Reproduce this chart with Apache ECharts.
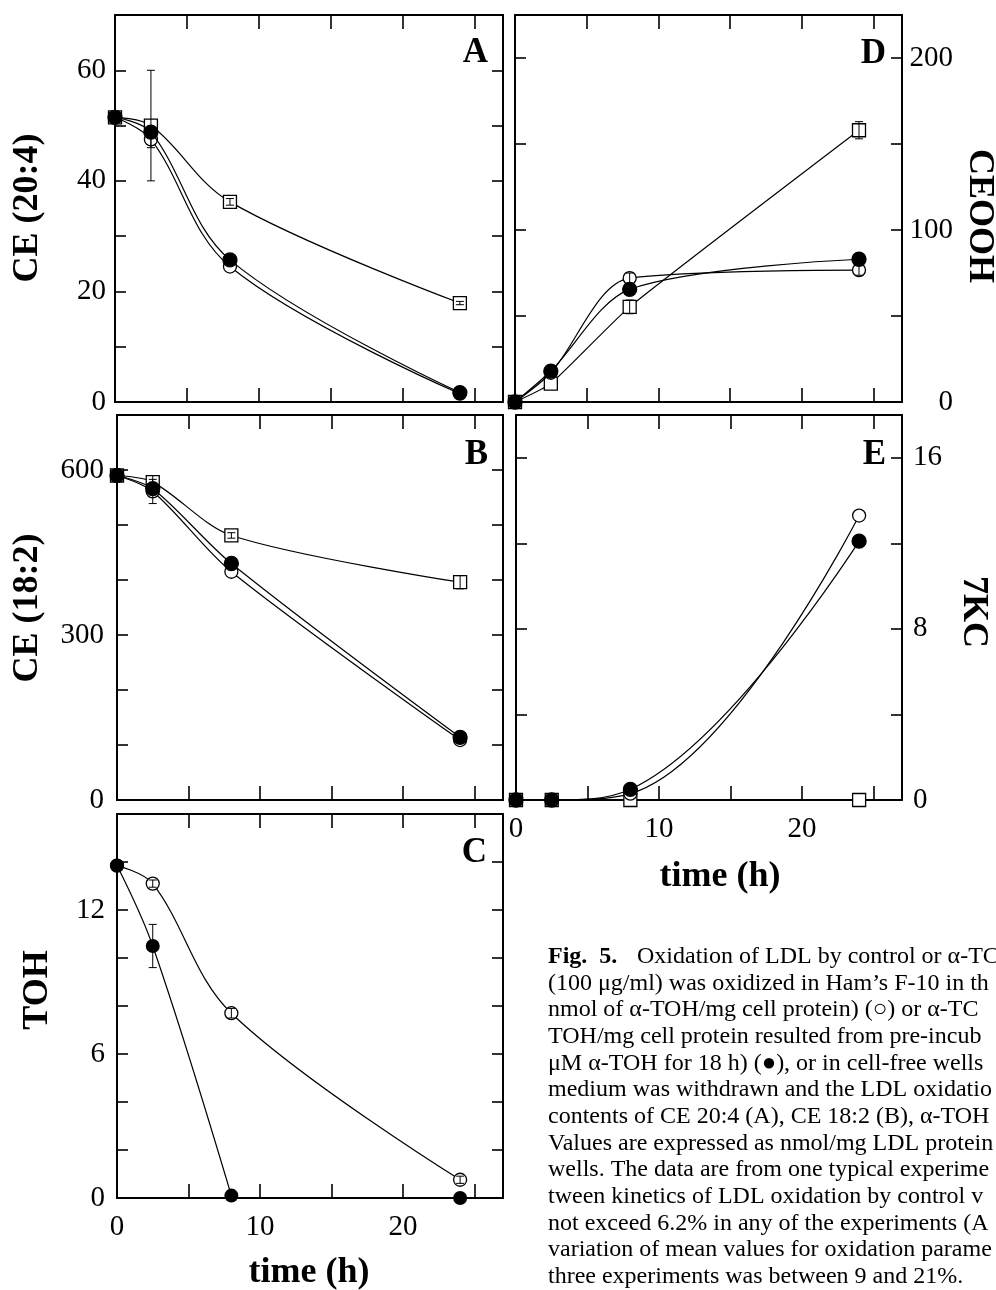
<!DOCTYPE html>
<html>
<head>
<meta charset="utf-8">
<script src="https://cdn.jsdelivr.net/npm/echarts@6.0.0/dist/echarts.min.js"></script>
<style>
  html, body { margin: 0; padding: 0; background: #fff; }
  #chart { width: 996px; height: 1290px; }
</style>
</head>
<body>
<div id="chart"></div>
<script>
// sampling times (h)
var times = [0, 2.5, 8, 24];

// A: CE (20:4)
var aOpen = [51.5, 47.5, 24.5, 1.5];
var aFilled = [51.5, 48.8, 25.7, 1.7];
var aSquare = [51.5, 50.0, 36.2, 17.9];
var aOpenErr = [0, 1.5, 0, 0];
var aSquareErr = [0, 10, 0.6, 0.3];

// B: CE (18:2)
var bOpen = [590, 561, 415, 109];
var bFilled = [590, 566, 430, 114];
var bSquare = [590, 578, 481, 396];
var bOpenErr = [0, 22, 0, 0];
var bSquareErr = [0, 12, 5, 12];

// C: TOH
var cOpen = [13.85, 13.1, 7.7, 0.76];
var cFilled = [13.85, 10.5, 0.1, 0];
var cOpenErr = [0, 0.15, 0.2, 0.15];
var cFilledErr = [0, 0.9, 0, 0];

// D: CEOOH
var dOpen = [0, 17, 72, 76.7];
var dFilled = [0, 18, 65.5, 83];
var dSquare = [0, 10.7, 55.3, 158];
var dOpenErr = [0, 0, 3, 3];
var dSquareErr = [0, 0, 4, 5];

// E: 7KC
var eOpen = [0, 0, 0.3, 13.3];
var eFilled = [0, 0, 0.5, 12.1];
var eSquare = [0, 0, 0, 0];

var xTicks = [0, 10, 20];

var captionLines = [
  '(100 \u03bcg/ml) was oxidized in Ham\u2019s F-10 in th',
  'nmol of \u03b1-TOH/mg cell protein) (\u25cb) or \u03b1-TC',
  'TOH/mg cell protein resulted from pre-incub',
  '\u03bcM \u03b1-TOH for 18 h) (\u25cf), or in cell-free wells',
  'medium was withdrawn and the LDL oxidatio',
  'contents of CE 20:4 (A), CE 18:2 (B), \u03b1-TOH',
  'Values are expressed as nmol/mg LDL protein',
  'wells. The data are from one typical experime',
  'tween kinetics of LDL oxidation by control v',
  'not exceed 6.2% in any of the experiments (A',
  'variation of mean values for oxidation parame',
  'three experiments was between 9 and 21%.'
];

var SERIF = '"Liberation Serif", "Times New Roman", serif';

function pts(vals) {
  return times.map(function (t, i) { return [t, vals[i]]; });
}

function errData(vals, errs) {
  var out = [];
  times.forEach(function (t, i) {
    if (errs[i] > 0) out.push([t, vals[i] - errs[i], vals[i] + errs[i]]);
  });
  return out;
}

var grids = [
  { left: 115, top: 15, width: 388, height: 387 },   // A
  { left: 117, top: 415, width: 386, height: 385 },  // B
  { left: 117, top: 814, width: 386, height: 384 },  // C
  { left: 515, top: 15, width: 387, height: 387 },   // D
  { left: 516, top: 415, width: 386, height: 385 }   // E
];

// y axis per panel: [max, interval, labelStep, labelSide, labelMargin]
var yCfg = [
  [70, 10, 20, 'left', 9],
  [700, 100, 300, 'left', 13],
  [16, 2, 6, 'left', 12],
  [225, 50, 100, 'right', 51],
  [18, 4, 8, 'right', 11]
];
var xLabelled = [false, false, true, false, true];

var xAxes = [], yAxes = [];
var lineStyleAxis = { color: '#000', width: 2 };
var tickStyle = { color: '#000', width: 1.6 };
grids.forEach(function (g, i) {
  ['bottom', 'top'].forEach(function (pos) {
    var showX = xLabelled[i] && pos === 'bottom';
    xAxes.push({
      gridIndex: i, type: 'value', position: pos, min: 0, max: 27, interval: 5,
      axisLine: { show: true, onZero: false, lineStyle: lineStyleAxis },
      axisTick: { show: true, inside: true, length: 14, lineStyle: tickStyle },
      splitLine: { show: false },
      axisLabel: {
        show: showX, margin: 15, color: '#000', fontFamily: SERIF, fontSize: 29,
        formatter: function (v) { return xTicks.indexOf(v) >= 0 ? String(v) : ''; }
      }
    });
  });
  var c = yCfg[i];
  ['left', 'right'].forEach(function (side) {
    var lab = side === c[3];
    yAxes.push({
      gridIndex: i, type: 'value', position: side, min: 0, max: c[0], interval: c[1],
      axisLine: { show: true, onZero: false, lineStyle: lineStyleAxis },
      axisTick: { show: true, inside: true, length: 11, lineStyle: tickStyle },
      splitLine: { show: false },
      axisLabel: {
        show: lab, margin: c[4], color: '#000', fontFamily: SERIF, fontSize: 29,
        align: side === 'right' && i === 3 ? 'right' : undefined,
        formatter: function (v) { return (v % c[2] === 0) ? String(v) : ''; }
      }
    });
  });
});

function lineSeries(gi, vals, kind, smooth) {
  var sym = kind === 'square' ? 'rect' : 'circle';
  var size = kind === 'filled' ? 14 : 13;
  return {
    type: 'line', xAxisIndex: gi * 2, yAxisIndex: gi * 2,
    data: pts(vals), smooth: smooth,
    symbol: sym, symbolSize: size, showAllSymbol: true,
    z: kind === 'filled' ? 4 : (kind === 'open' ? 3 : 2),
    lineStyle: { color: '#000', width: 1.2 },
    itemStyle: {
      color: kind === 'filled' ? '#000' : '#fff',
      borderColor: '#000', borderWidth: 1.3, opacity: 1
    },
    emphasis: { disabled: true },
    animation: false
  };
}

function errSeries(gi, data) {
  return {
    type: 'custom', xAxisIndex: gi * 2, yAxisIndex: gi * 2, z: 10,
    data: data, animation: false,
    encode: { x: 0, y: [1, 2] },
    renderItem: function (params, api) {
      var lo = api.coord([api.value(0), api.value(1)]);
      var hi = api.coord([api.value(0), api.value(2)]);
      var w = 4;
      var st = { stroke: '#000', lineWidth: 1 };
      return {
        type: 'group', children: [
          { type: 'line', shape: { x1: lo[0], y1: lo[1], x2: hi[0], y2: hi[1] }, style: st },
          { type: 'line', shape: { x1: lo[0] - w, y1: lo[1], x2: lo[0] + w, y2: lo[1] }, style: st },
          { type: 'line', shape: { x1: hi[0] - w, y1: hi[1], x2: hi[0] + w, y2: hi[1] }, style: st }
        ]
      };
    }
  };
}

var series = [
  // A
  lineSeries(0, aSquare, 'square', 0.35),
  lineSeries(0, aOpen, 'open', 0.35),
  lineSeries(0, aFilled, 'filled', 0.35),
  errSeries(0, errData(aSquare, aSquareErr)),
  errSeries(0, errData(aOpen, aOpenErr)),
  // B
  lineSeries(1, bSquare, 'square', 0.3),
  lineSeries(1, bOpen, 'open', 0.3),
  lineSeries(1, bFilled, 'filled', 0.3),
  errSeries(1, errData(bSquare, bSquareErr)),
  errSeries(1, errData(bOpen, bOpenErr)),
  // C
  lineSeries(2, cOpen, 'open', 0.35),
  {
    type: 'scatter', xAxisIndex: 4, yAxisIndex: 4, data: pts(cFilled),
    symbol: 'circle', symbolSize: 14, z: 4,
    itemStyle: { color: '#000', opacity: 1 }, emphasis: { disabled: true }, animation: false
  },
  {
    type: 'line', xAxisIndex: 4, yAxisIndex: 4, data: pts(cFilled).slice(0, 3),
    smooth: 0.35, showSymbol: false, z: 3,
    lineStyle: { color: '#000', width: 1.2 }, animation: false
  },
  errSeries(2, errData(cFilled, cFilledErr)),
  errSeries(2, errData(cOpen, cOpenErr)),
  // D
  lineSeries(3, dSquare, 'square', 0.15),
  lineSeries(3, dOpen, 'open', 0.3),
  lineSeries(3, dFilled, 'filled', 0.3),
  errSeries(3, errData(dSquare, dSquareErr)),
  errSeries(3, errData(dOpen, dOpenErr)),
  // E
  lineSeries(4, eSquare, 'square', 0),
  lineSeries(4, eOpen, 'open', 0.4),
  lineSeries(4, eFilled, 'filled', 0.4)
];

function txt(x, y, text, font, align, rot) {
  return {
    type: 'text', x: x, y: y, rotation: rot || 0, z: 20,
    style: { text: text, font: font, fill: '#000', align: align || 'center', verticalAlign: 'middle' }
  };
}

var boldTitle = 'bold 36px ' + SERIF;
var boldLetter = 'bold 35px ' + SERIF;
var graphics = [
  txt(28, 208, 'CE (20:4)', boldTitle, 'center', Math.PI / 2),
  txt(28, 608, 'CE (18:2)', boldTitle, 'center', Math.PI / 2),
  txt(38, 990, 'TOH', boldTitle, 'center', Math.PI / 2),
  txt(979, 216, 'CEOOH', boldTitle, 'center', -Math.PI / 2),
  txt(973, 612, '7KC', boldTitle, 'center', -Math.PI / 2),
  txt(488, 53, 'A', boldLetter, 'right'),
  txt(886, 54, 'D', boldLetter, 'right'),
  txt(488, 455, 'B', boldLetter, 'right'),
  txt(886, 455, 'E', boldLetter, 'right'),
  txt(487, 853, 'C', boldLetter, 'right'),
  txt(309, 1273, 'time (h)', boldTitle, 'center'),
  txt(720, 877, 'time (h)', boldTitle, 'center'),
  txt(548, 957, 'Fig.  5.', 'bold 24px ' + SERIF, 'left'),
  txt(637, 957, 'Oxidation of LDL by control or \u03b1-TC', '24px ' + SERIF, 'left')
];
captionLines.forEach(function (line, i) {
  graphics.push(txt(548, 983.5 + i * 26.67, line, '24px ' + SERIF, 'left'));
});

var chart = echarts.init(document.getElementById('chart'), null, { renderer: 'canvas' });
chart.setOption({
  backgroundColor: '#fff',
  animation: false,
  grid: grids,
  xAxis: xAxes,
  yAxis: yAxes,
  series: series,
  graphic: graphics
});
</script>
</body>
</html>
